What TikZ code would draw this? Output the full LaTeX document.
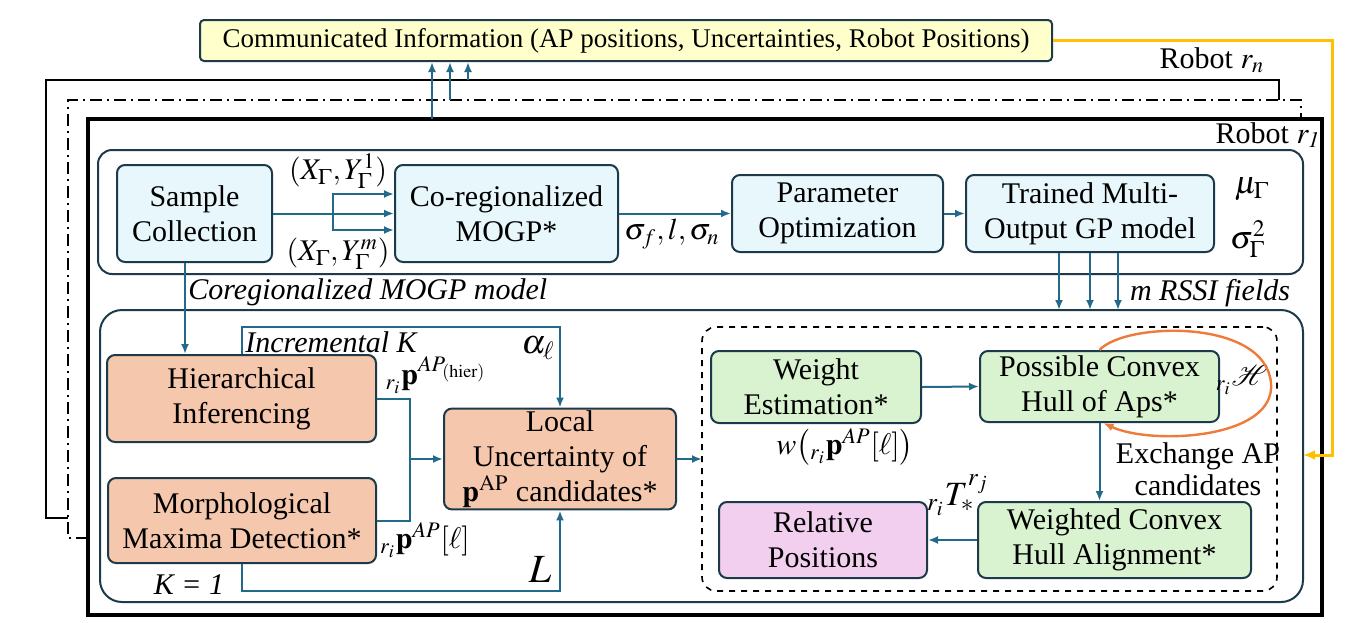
\documentclass[tikz,border=0pt]{standalone}
\usepackage{amsmath}
\usepackage{mathptmx}
\usepackage{mathrsfs}
\usepackage{fontspec}
\setmainfont{Liberation Serif}
\usetikzlibrary{arrows.meta,calc}
\definecolor{bordc}{HTML}{1C3A4A}
\definecolor{connc}{HTML}{236A8A}
\definecolor{cyanf}{HTML}{E8F7FC}
\definecolor{salmf}{HTML}{F5C7AC}
\definecolor{greenf}{HTML}{D9F2D0}
\definecolor{pinkf}{HTML}{F2CFEE}
\definecolor{yellf}{HTML}{FFFFCC}
\definecolor{goldc}{HTML}{FFC000}
\definecolor{loopc}{HTML}{EE7B3A}
\begin{document}
\begin{tikzpicture}[x=0.5pt,y=-0.5pt,
  font=\fontsize{15}{17.5}\selectfont,
  box/.style={draw=bordc, line width=1pt, rounded corners=4pt, align=center, inner sep=1pt},
  cyanbox/.style={box, fill=cyanf},
  salmbox/.style={box, fill=salmf},
  greenbox/.style={box, fill=greenf},
  pinkbox/.style={box, fill=pinkf},
  frame/.style={inner sep=0pt, outer sep=0pt},
  conn/.style={draw=connc, line width=1pt},
  arr/.style={conn, -{Latex[length=5pt,width=4pt]}},
  goldarr/.style={draw=goldc, line width=1.5pt, -{Latex[length=6pt,width=5pt]}},
  looparr/.style={draw=loopc, line width=1.2pt, -{Latex[length=5pt,width=4pt]}},
  lbl/.style={inner sep=0pt}
]
\useasboundingbox (0,0) rectangle (1354,622);

% back frames of other robots
\draw[line width=1.2pt] (68,518) -- (46,518) -- (46,80) -- (1279,80) -- (1279,100);
\draw[line width=1.2pt, dash pattern=on 6pt off 2.5pt on 1pt off 2.5pt] (88,538) -- (68,538) -- (68,100) -- (1301,100) -- (1301,119);
\node[frame, draw, line width=2pt, minimum width=617pt, minimum height=248pt] (r1) at (705,367) {};

\node[lbl] (rn) at (1212,60) {Robot $r_n$};
\node[lbl] (rone) at (1268,135) {Robot $r_{\mathit{1}}$};

% communicated info
\node[box, fill=yellf, rounded corners=2pt, minimum width=426pt, minimum height=20.5pt, font=\fontsize{13.5}{16}\selectfont] (comm) at (626,40.5) {Communicated Information (AP positions, Uncertainties, Robot Positions)};

\coordinate (u1) at (432,119);
\coordinate (u2) at (450,100);
\coordinate (u3) at (468,80);
\draw[arr] (u1) -- (u1 |- comm.south);
\draw[arr] (u2) -- (u2 |- comm.south);
\draw[arr] (u3) -- (u3 |- comm.south);

% group boxes
\node[frame, draw=bordc, line width=1pt, rounded corners=7pt, minimum width=602.5pt, minimum height=62pt] (topbox) at (700.5,212) {};
\node[frame, draw=bordc, line width=1pt, rounded corners=11pt, minimum width=601.5pt, minimum height=146pt] (lowbox) at (701.5,456) {};
\node[frame, draw=black, line width=0.8pt, dashed, rounded corners=7pt, minimum width=287.5pt, minimum height=132pt] (dbox) at (989.5,459) {};

% top row
\node[cyanbox, minimum width=77.5pt, minimum height=48.5pt] (sample) at (194.5,213.5) {Sample\\Collection};
\node[cyanbox, minimum width=111.5pt, minimum height=48.5pt] (coreg) at (506.5,213.5) {Co-regionalized\\MOGP*};
\node[cyanbox, minimum width=105.5pt, minimum height=38.5pt] (param) at (837.5,213.5) {Parameter\\Optimization};
\node[cyanbox, minimum width=124pt, minimum height=38.5pt] (trained) at (1090,213.5) {Trained Multi-\\Output GP model};

\coordinate (sj) at (333,213.5);
\draw[conn] (sample.east) -- (sj);
\draw[arr] (sj) |- ([yshift=9.75pt]coreg.west);
\draw[arr] (sj) -- (coreg.west);
\draw[arr] (sj) |- ([yshift=-8.25pt]coreg.west);
\node[lbl] (xy1) at (338,171) {$(X_\Gamma, Y_\Gamma^{1})$};
\node[lbl] (xym) at (338,254) {$(X_\Gamma, Y_\Gamma^{m})$};

\draw[arr] (coreg.east) -- (param.west);
\node[lbl] (hyp) at (672,234) {$\sigma_f, l, \sigma_n$};
\draw[arr] (param.east) -- (trained.west);

\node[lbl, font=\fontsize{16}{18}\selectfont] (mu) at (1252,189) {$\mu_\Gamma$};
\node[lbl, font=\fontsize{16}{18}\selectfont] (sig) at (1248,239) {$\sigma^2_\Gamma$};

\coordinate (d1) at (1059,310);
\coordinate (d2) at (1090,310);
\coordinate (d3) at (1118,310);
\draw[arr] (d1 |- trained.south) -- (d1);
\draw[arr] (d2 |- trained.south) -- (d2);
\draw[arr] (d3 |- trained.south) -- (d3);
\node[lbl] (rssi) at (1210,293) {\itshape m RSSI fields};
\node[lbl, anchor=west] (cmodel) at (188,292) {\itshape Coregionalized MOGP model};

% lower left
\node[salmbox, minimum width=134.5pt, minimum height=43.5pt] (hier) at (241.5,398.5) {Hierarchical\\Inferencing};
\node[salmbox, minimum width=134pt, minimum height=42.5pt] (morph) at (242,520.5) {Morphological\\Maxima Detection*};
\node[salmbox, minimum width=116pt, minimum height=50pt] (local) at (560,459) {Local\\Uncertainty of\\$\mathbf{p}^{\mathrm{AP}}$ candidates*};

\draw[arr] ([xshift=-4.75pt]sample.south) -- ([xshift=-4.75pt]sample.south |- hier.north);

\coordinate (mj) at (410,459);
\draw[conn] (hier.east) -| (mj);
\draw[conn] (morph.east) -| (mj);
\draw[arr] (mj) -- (local.west);

\draw[arr] (hier.north) -- ++(0,-27) -| (local.north);
\draw[arr] (morph.south) -- ++(0,27) -| (local.south);

\node[lbl, anchor=west] (inck) at (245,342) {\itshape Incremental K};
\node[lbl, font=\fontsize{17}{19}\selectfont] (alpha) at (538,348) {$\alpha_\ell$};
\node[lbl] (phier) at (436,375) {${}_{r_i}\mathbf{p}^{AP_{(\mathrm{hier})}}$};
\node[lbl] (pell) at (425,540) {${}_{r_i}\mathbf{p}^{AP}[\ell]$};
\node[lbl] (k1) at (189,585) {\itshape K = 1};
\node[lbl, font=\fontsize{20}{22}\selectfont] (bigl) at (540,570) {$L$};

\draw[arr] (local.east) -- (local.east -| dbox.west);

% right part
\node[greenbox, minimum width=105pt, minimum height=36pt] (weight) at (816,387) {Weight\\Estimation*};
\node[greenbox, minimum width=119.5pt, minimum height=35.5pt] (possible) at (1099.5,386.5) {Possible Convex\\Hull of Aps*};
\node[pinkbox, minimum width=104pt, minimum height=38pt] (relative) at (823,540) {Relative\\Positions};
\node[greenbox, minimum width=136.5pt, minimum height=38pt] (weighted) at (1114.5,540) {Weighted Convex\\Hull Alignment*};

\draw[arr] (weight.east) -- (possible.west);
\draw[arr] (possible.south) -- (possible.south |- weighted.north);
\draw[arr] (weighted.west) -- (relative.east);

\node[lbl] (wl) at (845,447) {$w\bigl({}_{r_i}\mathbf{p}^{AP}[\ell]\bigr)$};
\node[lbl, font=\fontsize{17}{19}\selectfont] (tl) at (958,495) {${}_{r_i}T_*^{r_j}$};
\node[lbl] (hl) at (1242,380) {${}_{r_i}\mathscr{H}$};

\draw[looparr] (possible.north) .. controls (1125,322) and (1265,318) .. (1271,383)
   .. controls (1276,440) and (1150,445) .. ([xshift=2pt]possible.south);

\node[lbl, align=center, font=\fontsize{15}{16}\selectfont] (exch) at (1198,469) {Exchange AP\\candidates};

\coordinate (g1) at (1332,455);
\draw[goldarr] (comm.east) -| (g1) -- (g1 -| lowbox.east);
\end{tikzpicture}
\end{document}
